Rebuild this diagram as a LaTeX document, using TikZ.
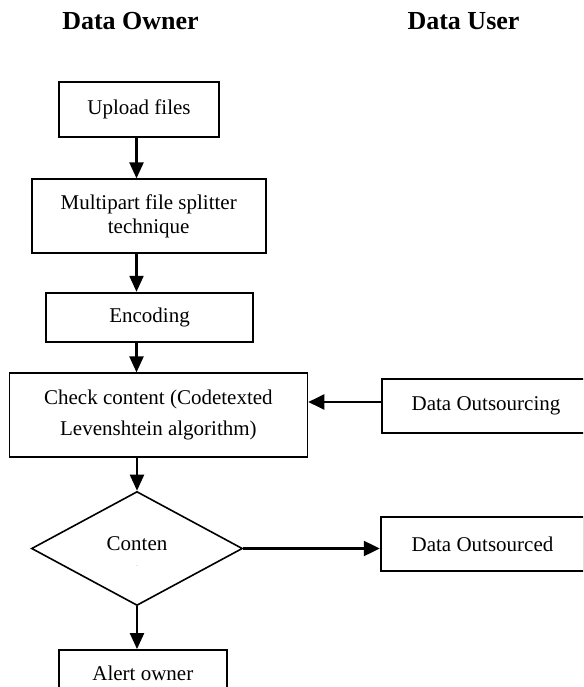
\documentclass[tikz,border=0pt]{standalone}
\usepackage{fontspec}
\setmainfont{Liberation Serif}
\usetikzlibrary{arrows.meta,shapes.geometric}

\tikzset{
  body/.style={font=\fontsize{21}{24}\selectfont},
  heading/.style={font=\fontsize{26}{30}\selectfont\bfseries, anchor=base, inner sep=0pt},
  procbox/.style={body, draw, line width=1.8pt, rectangle, inner sep=0pt, align=center},
  decision/.style={draw, line width=1.6pt, diamond, inner sep=0pt,
                   minimum width=211pt, minimum height=114pt},
  arr/.style={line width=2.2pt, -{Triangle[width=14pt,length=16pt]}},
  harr/.style={line width=2.2pt, -{Triangle[width=15pt,length=16pt]}},
}

\begin{document}
\begin{tikzpicture}[x=1pt, y=-1pt]
  \useasboundingbox (0,0) rectangle (583,687);
  \clip (0,0) rectangle (583,687);

  % column headings
  \node[heading] (hown)  at (130.5,29.5) {Data Owner};
  \node[heading] (huser) at (463.5,29.5) {Data User};

  % owner side: processing steps
  \node[procbox, minimum width=160pt, minimum height=55pt] (up) at (139,109.2) {Upload files};
  \node[procbox, minimum width=234pt, minimum height=74pt,
        font=\fontsize{21}{24.5}\selectfont] (multi) at (148.7,216.3)
        {Multipart file splitter\\technique};
  \node[procbox, minimum width=207.6pt, minimum height=49.6pt] (enc) at (149.5,317.5) {Encoding};
  \node[procbox, minimum width=298pt, minimum height=83.4pt,
        font=\fontsize{21}{30.5}\selectfont] (check) at (158.4,415)
        {Check content (Codetexted\\Levenshtein algorithm)};

  % decision
  \node[decision] (dia) at (137,548.5) {};
  \node[body, anchor=base, inner sep=0pt] (dtxt) at (137,550.7) {Conten};
  \node[font=\fontsize{6}{7}\selectfont, text=black!55, inner sep=0pt] (ddot) at (137,566) {.};

  \node[procbox, minimum width=167.7pt, minimum height=47pt] (alert) at (142.8,673.5) {Alert owner};

  % user side
  \node[procbox, minimum width=208.6pt, minimum height=54pt] (dout) at (486,406.3) {Data Outsourcing};
  \node[procbox, minimum width=203.6pt, minimum height=53.4pt] (dsd) at (482.5,544) {Data Outsourced};

  % vertical flow line position
  \coordinate (ax) at (136.5,0);

  % connectors
  \draw[arr] (up.south -| ax)    -- (multi.north -| ax);
  \draw[arr] (multi.south -| ax) -- (enc.north -| ax);
  \draw[arr] (enc.south -| ax)   -- (check.north -| ax);
  \draw[arr] (check.south -| dia.north) -- (dia.north);
  \draw[arr] (dia.south) -- (alert.north -| dia.south);

  \path ([yshift=4.3pt]dout.west) coordinate (oin);
  \draw[harr] (oin) -- (oin -| check.east);
  \draw[harr] (dia.east) -- (dia.east -| dsd.west);
\end{tikzpicture}
\end{document}
